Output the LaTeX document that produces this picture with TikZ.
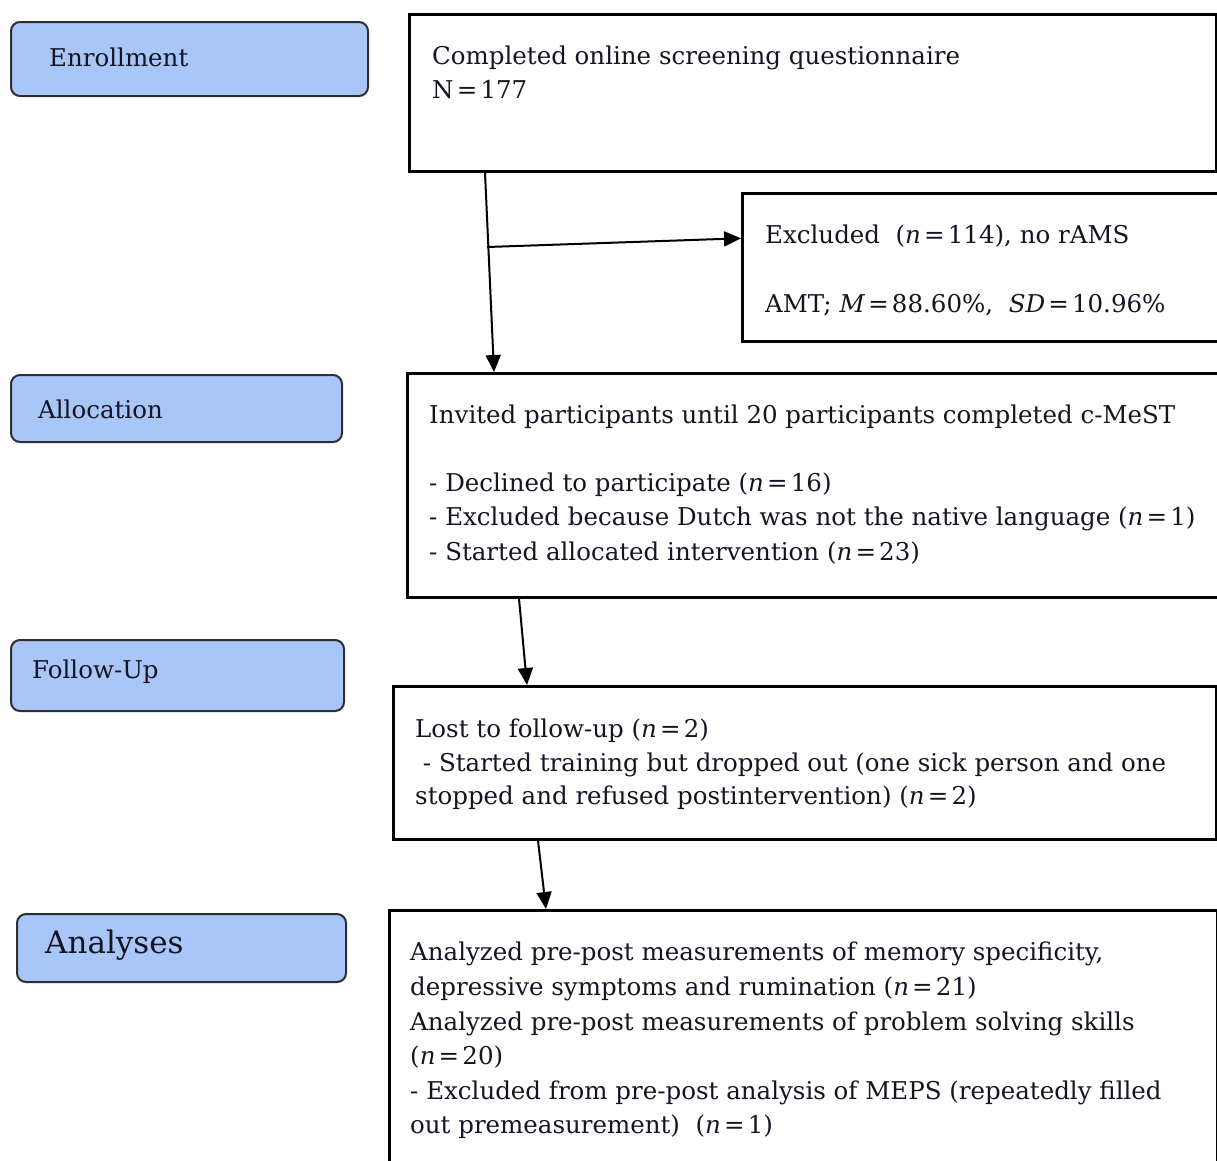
\documentclass[tikz,border=0pt]{standalone}
\usepackage{fontspec}
\setmainfont{DejaVu Serif}
\usetikzlibrary{arrows.meta,calc}
\definecolor{lblfill}{RGB}{169,198,248}
\definecolor{lbldraw}{RGB}{45,45,50}
\definecolor{txtcol}{RGB}{20,20,35}
\newcommand{\eqsign}{\hspace{0.13em}=\hspace{0.13em}}
\begin{document}
\begin{tikzpicture}[x=1pt,y=-1pt,
  box/.style={draw=black,line width=2.6pt,rectangle,inner sep=0pt,anchor=north west},
  lbl/.style={draw=lbldraw,fill=lblfill,line width=2pt,rounded corners=9pt,rectangle,inner sep=0pt,anchor=north west},
  txt/.style={anchor=base west,inner sep=0pt,text=txtcol,font=\fontsize{24.5}{30}\selectfont},
  lbltxt/.style={anchor=base west,inner sep=0pt,text=txtcol,font=\fontsize{24.5}{30}\selectfont},
  arr/.style={line width=2pt,-{Triangle[length=17pt,width=15pt]}}]
\useasboundingbox (0,0) rectangle (1217,1160);
\clip (0,0) rectangle (1217,1160);
% stage labels
\node[lbl,minimum width=357pt,minimum height=74pt] (lenr) at (10,21) {};
\node[lbltxt] (lenrt) at (49,66) {Enrollment};
\node[lbl,minimum width=331pt,minimum height=67pt] (lall) at (10,374) {};
\node[lbltxt] (lallt) at (38,418) {Allocation};
\node[lbl,minimum width=333pt,minimum height=71pt] (lfup) at (10,639) {};
\node[lbltxt] (lfupt) at (32,678) {Follow-Up};
\node[lbl,minimum width=329pt,minimum height=68pt] (lana) at (16,913) {};
\node[lbltxt,font=\fontsize{31}{36}\selectfont] (lanat) at (45,953) {Analyses};
% boxes
\node[box,minimum width=807pt,minimum height=157pt] (b1) at (408,13) {};
\node[txt] (b1a) at (432,64) {Completed online screening questionnaire};
\node[txt] (b1b) at (432,98) {N\eqsign177};
\node[box,minimum width=500pt,minimum height=148pt] (ex) at (741,192) {};
\node[txt] (exa) at (765,243) {Excluded\ \ (\textit{n}\eqsign114), no rAMS};
\node[txt] (exb) at (765,312) {AMT; \textit{M}\eqsign88.60\%,\ \ \textit{SD}\eqsign10.96\%};
\node[box,minimum width=830pt,minimum height=224pt] (al) at (406,372) {};
\node[txt] (ala) at (429,423) {Invited participants until 20 participants completed c-MeST};
\node[txt] (alb) at (429,491) {- Declined to participate (\textit{n}\eqsign16)};
\node[txt] (alc) at (429,525) {- Excluded because Dutch was not the native language (\textit{n}\eqsign1)};
\node[txt] (ald) at (429,560) {- Started allocated intervention (\textit{n}\eqsign23)};
\node[box,minimum width=823pt,minimum height=153pt] (fu) at (392,685) {};
\node[txt] (fua) at (415,737) {Lost to follow-up (\textit{n}\eqsign2)};
\node[txt] (fub) at (415,771) {\ - Started training but dropped out (one sick person and one};
\node[txt] (fuc) at (415,804) {stopped and refused postintervention) (\textit{n}\eqsign2)};
\node[box,minimum width=828pt,minimum height=300pt] (an) at (388,909) {};
\node[txt] (ana) at (410,960) {Analyzed pre-post measurements of memory specificity,};
\node[txt] (anb) at (410,995) {depressive symptoms and rumination (\textit{n}\eqsign21)};
\node[txt] (anc) at (410,1030) {Analyzed pre-post measurements of problem solving skills};
\node[txt] (and) at (410,1064) {(\textit{n}\eqsign20)};
\node[txt] (ane) at (410,1099) {- Excluded from pre-post analysis of MEPS (repeatedly filled};
\node[txt] (anf) at (410,1133) {out premeasurement)\ \ (\textit{n}\eqsign1)};
% connectors
\coordinate (br) at (487,247);
\draw[arr] ($(b1.south west)+(77,0)$) -- ($(al.north west)+(88,0)$);
\draw[arr] (br) -- ($(ex.west)+(0,-29)$);
\draw[arr] ($(al.south west)+(113,0)$) -- ($(fu.north west)+(135,0)$);
\draw[arr] ($(fu.south west)+(146,0)$) -- ($(an.north west)+(158,0)$);
\end{tikzpicture}
\end{document}
